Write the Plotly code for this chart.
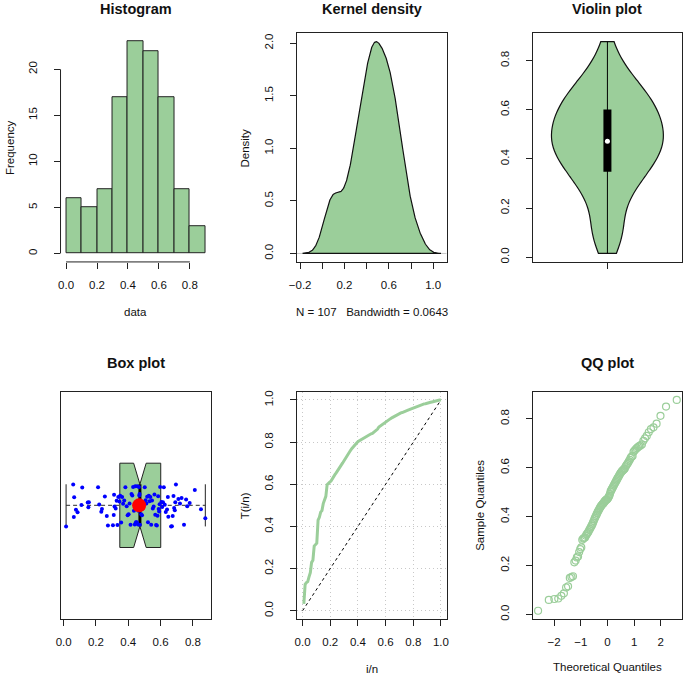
import math
import numpy as np
import plotly.graph_objects as go
from statistics import NormalDist

# ---------------- data (sorted sample, n = 107) ----------------
data = [
    0.015, 0.059, 0.063, 0.065, 0.076, 0.086,
    0.110, 0.115, 0.149, 0.153, 0.156,
    0.213, 0.220, 0.233, 0.237, 0.255, 0.267, 0.274,
    0.305, 0.310, 0.312, 0.315, 0.322, 0.328, 0.333, 0.338, 0.345, 0.350,
    0.356, 0.362, 0.368, 0.375, 0.382, 0.390, 0.396,
    0.402, 0.408, 0.414, 0.420, 0.425, 0.430, 0.435, 0.440, 0.443, 0.447,
    0.450, 0.453, 0.456, 0.460, 0.463, 0.466, 0.468, 0.470, 0.472, 0.476,
    0.480, 0.485, 0.492,
    0.502, 0.507, 0.512, 0.517, 0.522, 0.527, 0.532, 0.537, 0.542, 0.547,
    0.552, 0.557, 0.562, 0.567, 0.572, 0.577, 0.581, 0.585, 0.588, 0.591,
    0.594, 0.597,
    0.605, 0.610, 0.615, 0.620, 0.626, 0.632, 0.640, 0.645, 0.648, 0.665,
    0.670, 0.675, 0.680, 0.684, 0.688, 0.691, 0.695,
    0.710, 0.720, 0.730, 0.745, 0.758, 0.765, 0.780,
    0.812, 0.850, 0.877,
]
kde_bandwidth = 0.0643
violin_bandwidth = 0.079

hist_xticks = [0.0, 0.2, 0.4, 0.6, 0.8]
hist_yticks = [0, 5, 10, 15, 20]
dens_xticks = [-0.2, 0.0, 0.2, 0.4, 0.6, 0.8, 1.0]
dens_xlabels = ["\u22120.2", "", "0.2", "", "0.6", "", "1.0"]
dens_yticks = [0.0, 0.5, 1.0, 1.5, 2.0]
vio_yticks = [0.0, 0.2, 0.4, 0.6, 0.8]
box_xticks = [0.0, 0.2, 0.4, 0.6, 0.8]
ttt_ticks = [0.0, 0.2, 0.4, 0.6, 0.8, 1.0]
qq_xticks = [-2, -1, 0, 1, 2]
qq_xlabels = ["\u22122", "\u22121", "0", "1", "2"]
qq_yticks = [0.0, 0.2, 0.4, 0.6, 0.8]

GREEN = "#9BCE9A"
FONT = "Liberation Sans, Arial, Helvetica, sans-serif"

x = np.sort(np.array(data))
n = len(x)

# ---------------- derived statistics ----------------
gx = np.linspace(x.min() - 3 * kde_bandwidth, x.max() + 3 * kde_bandwidth, 512)
dens = np.exp(-0.5 * ((gx[:, None] - x[None, :]) / kde_bandwidth) ** 2).sum(axis=1)
dens /= (n * kde_bandwidth * math.sqrt(2 * math.pi))


def fivenum(v):
    v = np.sort(v)
    m = len(v)
    n4 = math.floor((m + 3) / 2) / 2
    d = [1, n4, (m + 1) / 2, m + 1 - n4, m]
    return [0.5 * (v[math.floor(k - 1)] + v[math.ceil(k - 1)]) for k in d]


fmin, q1, med, q3, fmax = fivenum(x)
iqr = q3 - q1
lo_w = x[x >= q1 - 1.5 * iqr].min()
hi_w = x[x <= q3 + 1.5 * iqr].max()
notch = 1.58 * iqr / math.sqrt(n)
mean = x.mean()

vq1, vmed, vq3 = np.percentile(x, [25, 50, 75])

cs = np.cumsum(x)
idx = np.arange(1, n + 1)
ttt = (cs + (n - idx) * x) / cs[-1]
u = idx / n

theo = np.array([NormalDist().inv_cdf((i - 0.5) / n) for i in idx])


def pad(a, b, f=0.04):
    r = b - a
    return [a - f * r, b + f * r]


# ---------------- figure ----------------
W, H = 685, 675


def dxd(a, b):
    return [a / W, b / W]


def dyd(top, bottom):
    return [1 - bottom / H, 1 - top / H]


fig = go.Figure()

# 1 histogram
fig.add_trace(go.Histogram(
    x=x, xbins=dict(start=0, end=0.9, size=0.1), autobinx=False,
    marker=dict(color=GREEN, line=dict(color="#222", width=1)),
    xaxis="x", yaxis="y", showlegend=False))

# 2 kernel density
fig.add_trace(go.Scatter(
    x=[gx[0] - 0.5, gx[-1] + 0.5], y=[0, 0], mode="lines",
    line=dict(color="#c8c8c8", width=1), xaxis="x2", yaxis="y2",
    showlegend=False, hoverinfo="skip"))
fig.add_trace(go.Scatter(
    x=np.concatenate([gx, [gx[-1], gx[0], gx[0]]]),
    y=np.concatenate([dens, [0, 0, dens[0]]]),
    mode="lines", fill="toself", fillcolor=GREEN,
    line=dict(color="#111", width=1.2), xaxis="x2", yaxis="y2",
    showlegend=False))

# 3 violin
fig.add_trace(go.Violin(
    x0=1, y=x, bandwidth=violin_bandwidth, spanmode="hard", width=0.806,
    scalemode="width", fillcolor=GREEN, line=dict(color="#111", width=1.2),
    points=False, box_visible=False, meanline_visible=False, opacity=1,
    xaxis="x3", yaxis="y3", showlegend=False))
fig.add_trace(go.Scatter(
    x=[1, 1], y=[lo_w, hi_w], mode="lines", line=dict(color="black", width=1),
    xaxis="x3", yaxis="y3", showlegend=False))
fig.add_trace(go.Scatter(
    x=[1, 1], y=[vq1, vq3], mode="lines", line=dict(color="black", width=8),
    xaxis="x3", yaxis="y3", showlegend=False))
fig.add_trace(go.Scatter(
    x=[1], y=[vmed], mode="markers", marker=dict(color="white", size=5),
    xaxis="x3", yaxis="y3", showlegend=False))

# 4 box plot (horizontal, notched)
bx = [q1, med - notch, med, med + notch, q3, q3, med + notch, med, med - notch, q1, q1]
by = [1.2, 1.2, 1.1, 1.2, 1.2, 0.8, 0.8, 0.9, 0.8, 0.8, 1.2]
for seg in ([lo_w, q1], [q3, hi_w]):
    fig.add_trace(go.Scatter(
        x=seg, y=[1, 1], mode="lines",
        line=dict(color="#555", width=1.4, dash="4px,3px"),
        xaxis="x4", yaxis="y4", showlegend=False))
for s in (lo_w, hi_w):
    fig.add_trace(go.Scatter(
        x=[s, s], y=[0.9, 1.1], mode="lines", line=dict(color="#222", width=1),
        xaxis="x4", yaxis="y4", showlegend=False))
fig.add_trace(go.Scatter(
    x=bx, y=by, mode="lines", fill="toself", fillcolor=GREEN,
    line=dict(color="#222", width=1), xaxis="x4", yaxis="y4", showlegend=False))
fig.add_trace(go.Scatter(
    x=[med, med], y=[0.9, 1.1], mode="lines", line=dict(color="black", width=3),
    xaxis="x4", yaxis="y4", showlegend=False))
k = np.arange(n)
jit = (((k * k) * 0.6180339887 + k * 0.377) % 1.0) * 0.2 - 0.1
fig.add_trace(go.Scatter(
    x=x, y=1 + jit, mode="markers", marker=dict(color="#0000FF", size=4),
    xaxis="x4", yaxis="y4", showlegend=False))
fig.add_trace(go.Scatter(
    x=[mean], y=[1], mode="markers", marker=dict(color="#FF0000", size=14),
    xaxis="x4", yaxis="y4", showlegend=False))

# 5 TTT plot
fig.add_trace(go.Scatter(
    x=[0, 1], y=[0, 1], mode="lines",
    line=dict(color="black", width=1, dash="3px,3px"),
    xaxis="x5", yaxis="y5", showlegend=False))
fig.add_trace(go.Scatter(
    x=u, y=ttt, mode="lines", line=dict(color=GREEN, width=3),
    xaxis="x5", yaxis="y5", showlegend=False))

# 6 QQ plot
fig.add_trace(go.Scatter(
    x=theo, y=x, mode="markers",
    marker=dict(symbol="circle-open", color=GREEN, size=7, line=dict(width=1.2)),
    xaxis="x6", yaxis="y6", showlegend=False))

tickfont = dict(family=FONT, size=11.5, color="#111")
base = dict(showgrid=False, zeroline=False, ticks="outside", ticklen=6,
            tickwidth=1, tickcolor="#222", linecolor="#222", linewidth=1,
            tickfont=tickfont, ticklabelstandoff=6, fixedrange=True)
boxed = dict(base, showline=True, mirror=True)
ybase = dict(ticklabelstandoff=12)

col = [dxd(53.3, 205.9), dxd(293.3, 445.0), dxd(532.3, 684.3)]
row = [dyd(32.3, 261.7), dyd(391.7, 620.0)]
grid = dict(showgrid=True, gridcolor="#c8c8c8", griddash="1px,3px", gridwidth=1)

lay = {}
lay["xaxis"] = dict(base, domain=col[0], anchor="y", range=[-0.036, 0.936],
                    tickvals=hist_xticks, ticktext=["0.0", "0.2", "0.4", "0.6", "0.8"],
                    showline=False)
lay["yaxis"] = dict(base, **ybase, domain=row[0], anchor="x", range=[-0.92, 23.92],
                    tickvals=hist_yticks, tickangle=-90, showline=False)
lay["xaxis2"] = dict(boxed, domain=col[1], anchor="y2", range=pad(gx[0], gx[-1]),
                     tickvals=dens_xticks, ticktext=dens_xlabels)
lay["yaxis2"] = dict(boxed, **ybase, domain=row[0], anchor="x2", range=pad(0, dens.max()),
                     tickvals=dens_yticks, ticktext=["0.0", "0.5", "1.0", "1.5", "2.0"],
                     tickangle=-90)
lay["xaxis3"] = dict(boxed, domain=col[2], anchor="y3", range=[0.46, 1.54],
                     tickvals=[1], ticktext=[""])
lay["yaxis3"] = dict(boxed, **ybase, domain=row[0], anchor="x3", range=pad(x.min(), x.max()),
                     tickvals=vio_yticks, ticktext=["0.0", "0.2", "0.4", "0.6", "0.8"],
                     tickangle=-90)
lay["xaxis4"] = dict(boxed, domain=col[0], anchor="y4", range=pad(x.min(), x.max()),
                     tickvals=box_xticks, ticktext=["0.0", "0.2", "0.4", "0.6", "0.8"])
lay["yaxis4"] = dict(boxed, domain=row[1], anchor="x4", range=[0.46, 1.54],
                     ticks="", showticklabels=False)
lay["xaxis5"] = dict(boxed, **grid, domain=col[1], anchor="y5", range=[-0.04, 1.04],
                     tickvals=ttt_ticks, ticktext=["0.0", "0.2", "0.4", "0.6", "0.8", "1.0"])
lay["yaxis5"] = dict(boxed, **grid, **ybase, domain=row[1], anchor="x5", range=[-0.04, 1.04],
                     tickvals=ttt_ticks, ticktext=["0.0", "0.2", "0.4", "0.6", "0.8", "1.0"],
                     tickangle=-90)
lay["xaxis6"] = dict(boxed, domain=col[2], anchor="y6", range=pad(theo.min(), theo.max()),
                     tickvals=qq_xticks, ticktext=qq_xlabels)
lay["yaxis6"] = dict(boxed, **ybase, domain=row[1], anchor="x6", range=pad(x.min(), x.max()),
                     tickvals=qq_yticks, ticktext=["0.0", "0.2", "0.4", "0.6", "0.8"],
                     tickangle=-90)

shapes = [
    dict(type="line", xref="x", yref="y domain", x0=hist_xticks[0], x1=hist_xticks[-1],
         y0=0, y1=0, line=dict(color="#222", width=1)),
    dict(type="line", xref="x domain", yref="y", x0=0, x1=0, y0=hist_yticks[0],
         y1=hist_yticks[-1], line=dict(color="#222", width=1)),
]


def ann(text, px, py, size=11.5, bold=False, angle=0):
    return dict(text=f"<b>{text}</b>" if bold else text, x=px / W, y=1 - py / H,
                xref="paper", yref="paper", showarrow=False, textangle=angle,
                xanchor="center", yanchor="middle",
                font=dict(family=FONT, size=size, color="#111"))


annotations = [
    ann("Histogram", 129.6, 8.5, 14.5, True),
    ann("Kernel density", 369.2, 8.5, 14.5, True),
    ann("Violin plot", 608.3, 8.5, 14.5, True),
    ann("Box plot", 129.6, 363.3, 14.5, True),
    ann("QQ plot", 608.3, 363.3, 14.5, True),
    ann("data", 129.6, 311.7),
    ann("Frequency", 1.5, 147.0, angle=-90),
    ann("Density", 240.5, 147.0, angle=-90),
    ann("N = 107   Bandwidth = 0.0643", 369.2, 311.7),
    ann("T(i/n)", 240.5, 505.8, angle=-90),
    ann("i/n", 369.2, 670.0),
    ann("Sample Quantiles", 479.5, 505.8, angle=-90),
    ann("Theoretical Quantiles", 608.3, 668.0),
]

fig.update_layout(
    width=W, height=H, autosize=False,
    margin=dict(l=0, r=0, t=0, b=0, pad=0),
    paper_bgcolor="white", plot_bgcolor="white",
    showlegend=False, shapes=shapes, annotations=annotations,
    font=dict(family=FONT, size=11.5, color="#111"),
    **lay,
)

fig.write_html("out.html", config={"displayModeBar": False},
               post_script="document.body.style.margin='0';")
